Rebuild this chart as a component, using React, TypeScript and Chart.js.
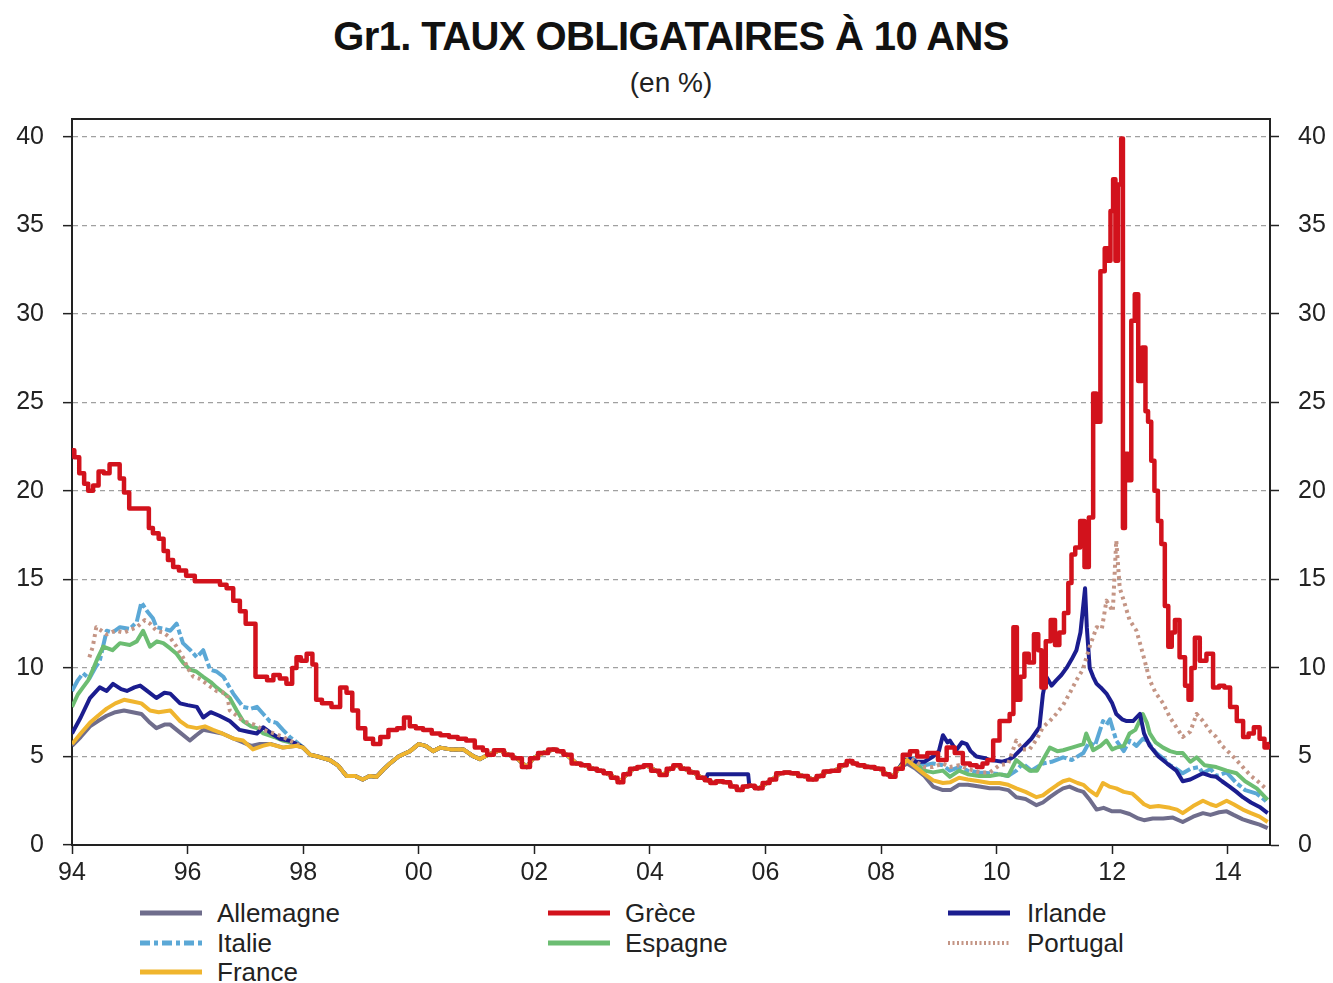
import React, { useEffect, useRef } from "react";
import { Chart, registerables } from "chart.js";

Chart.register(...registerables);

type P = [number, number];

const xTickYears = [1994, 1996, 1998, 2000, 2002, 2004, 2006, 2008, 2010, 2012, 2014];
const yTickValues = [0, 5, 10, 15, 20, 25, 30, 35, 40];

// Shared convergence period (all series nearly identical)
const conv1: P[] = [
  [1998.0, 5.5], [1998.12, 5.1], [1998.25, 5.0], [1998.46, 4.8], [1998.6, 4.5], [1998.75, 3.9],
  [1998.9, 3.9], [1999.03, 3.7], [1999.15, 3.9], [1999.27, 3.85], [1999.4, 4.3], [1999.5, 4.6],
  [1999.65, 5.0], [1999.85, 5.3], [2000.0, 5.7], [2000.12, 5.6], [2000.25, 5.3], [2000.37, 5.5],
  [2000.55, 5.4], [2000.77, 5.4], [2000.95, 5.0], [2001.06, 4.85],
];
const conv2: P[] = [
  [2001.2, 5.1], [2001.4, 5.35], [2001.55, 5.1], [2001.7, 4.9], [2001.87, 4.4], [2001.98, 4.9],
  [2002.15, 5.2], [2002.33, 5.4], [2002.45, 5.3], [2002.56, 5.1], [2002.73, 4.6], [2002.88, 4.5],
  [2003.02, 4.3], [2003.15, 4.2], [2003.25, 4.05], [2003.4, 3.8], [2003.48, 3.55], [2003.6, 4.0],
  [2003.71, 4.3], [2003.85, 4.4], [2003.94, 4.5], [2004.1, 4.2], [2004.23, 3.95], [2004.35, 4.3],
  [2004.46, 4.5], [2004.6, 4.3], [2004.75, 4.1], [2004.9, 3.8],
];
const conv3: P[] = [
  [2005.0, 3.65], [2005.09, 3.5], [2005.2, 3.6], [2005.33, 3.55], [2005.45, 3.3], [2005.56, 3.1],
  [2005.65, 3.3],
];
const conv4: P[] = [
  [2005.75, 3.35], [2005.88, 3.2], [2006.02, 3.5], [2006.12, 3.7], [2006.25, 4.05], [2006.38, 4.1],
  [2006.48, 4.05], [2006.65, 3.9], [2006.82, 3.7], [2006.95, 3.9], [2007.06, 4.15], [2007.2, 4.2],
  [2007.35, 4.5], [2007.46, 4.75], [2007.55, 4.6], [2007.63, 4.5], [2007.8, 4.4], [2007.98, 4.3],
  [2008.1, 4.0], [2008.2, 3.85], [2008.3, 4.3],
];

const allemagneEarly: P[] = [
  [1994.0, 5.6], [1994.15, 6.1], [1994.31, 6.7], [1994.45, 7.0], [1994.6, 7.3], [1994.75, 7.5],
  [1994.9, 7.6], [1995.05, 7.5], [1995.2, 7.4], [1995.35, 6.9], [1995.46, 6.6], [1995.6, 6.8],
  [1995.7, 6.8], [1995.85, 6.4], [1996.04, 5.9], [1996.15, 6.2], [1996.27, 6.5], [1996.45, 6.4],
  [1996.6, 6.3], [1996.8, 6.0], [1996.96, 5.8], [1997.1, 5.6], [1997.25, 5.7], [1997.45, 5.7],
  [1997.65, 5.5], [1997.89, 5.6],
];
const allemagneLate: P[] = [
  [2008.45, 4.6], [2008.6, 4.3], [2008.75, 3.9], [2008.9, 3.3], [2009.07, 3.1], [2009.2, 3.1],
  [2009.35, 3.4], [2009.5, 3.4], [2009.7, 3.3], [2009.88, 3.2], [2010.05, 3.2], [2010.2, 3.1],
  [2010.34, 2.7], [2010.5, 2.6], [2010.69, 2.25], [2010.8, 2.4], [2010.92, 2.7], [2011.05, 3.0],
  [2011.15, 3.2], [2011.26, 3.3], [2011.4, 3.1], [2011.5, 3.0], [2011.6, 2.6], [2011.73, 2.0],
  [2011.85, 2.1], [2012.0, 1.9], [2012.15, 1.9], [2012.3, 1.75], [2012.45, 1.5], [2012.55, 1.4],
  [2012.7, 1.5], [2012.88, 1.5], [2013.05, 1.55], [2013.22, 1.3], [2013.4, 1.6], [2013.57, 1.8],
  [2013.7, 1.7], [2013.85, 1.85], [2013.98, 1.9], [2014.1, 1.7], [2014.26, 1.45], [2014.4, 1.3],
  [2014.55, 1.15], [2014.69, 0.95],
];

const franceEarly: P[] = [
  [1994.0, 5.7], [1994.15, 6.3], [1994.31, 6.9], [1994.45, 7.3], [1994.6, 7.7], [1994.75, 8.0],
  [1994.9, 8.2], [1995.05, 8.1], [1995.2, 8.0], [1995.35, 7.6], [1995.5, 7.5], [1995.7, 7.6],
  [1995.87, 7.0], [1996.0, 6.7], [1996.16, 6.6], [1996.3, 6.7], [1996.44, 6.5], [1996.6, 6.3],
  [1996.8, 6.0], [1996.96, 5.9], [1997.13, 5.4], [1997.3, 5.6], [1997.43, 5.7], [1997.65, 5.5],
  [1997.89, 5.6],
];
const franceLate: P[] = [
  [2008.45, 4.8], [2008.6, 4.4], [2008.75, 4.0], [2008.9, 3.65], [2009.07, 3.5], [2009.2, 3.55],
  [2009.35, 3.8], [2009.5, 3.7], [2009.7, 3.6], [2009.88, 3.5], [2010.05, 3.5], [2010.2, 3.4],
  [2010.34, 3.2], [2010.5, 3.0], [2010.69, 2.7], [2010.8, 2.8], [2010.92, 3.1], [2011.05, 3.4],
  [2011.15, 3.6], [2011.26, 3.7], [2011.4, 3.5], [2011.5, 3.4], [2011.6, 3.1], [2011.73, 2.8],
  [2011.84, 3.5], [2011.95, 3.3], [2012.07, 3.2], [2012.2, 3.0], [2012.35, 2.9], [2012.42, 2.7],
  [2012.55, 2.3], [2012.65, 2.15], [2012.8, 2.2], [2013.0, 2.1], [2013.12, 2.0], [2013.22, 1.8],
  [2013.4, 2.2], [2013.57, 2.5], [2013.7, 2.3], [2013.8, 2.2], [2013.98, 2.5], [2014.1, 2.3],
  [2014.26, 2.0], [2014.4, 1.8], [2014.55, 1.6], [2014.69, 1.3],
];

const irlandeEarly: P[] = [
  [1994.0, 6.3], [1994.15, 7.2], [1994.31, 8.3], [1994.48, 8.9], [1994.6, 8.7], [1994.71, 9.1],
  [1994.85, 8.8], [1994.95, 8.7], [1995.08, 8.9], [1995.18, 9.0], [1995.3, 8.7], [1995.46, 8.3],
  [1995.6, 8.6], [1995.7, 8.55], [1995.87, 8.0], [1996.0, 7.9], [1996.16, 7.8], [1996.27, 7.2],
  [1996.4, 7.5], [1996.55, 7.3], [1996.73, 7.0], [1996.9, 6.5], [1997.05, 6.4], [1997.2, 6.3],
  [1997.31, 6.65], [1997.45, 6.3], [1997.6, 6.0], [1997.75, 5.9], [1997.89, 5.7],
];
const irlande2005: P[] = [[2004.98, 3.8], [2005.0, 4.0], [2005.7, 4.0], [2005.72, 3.35]];
const irlandeLate: P[] = [
  [2008.45, 5.0], [2008.6, 4.7], [2008.75, 4.7], [2008.9, 5.0], [2009.0, 5.3], [2009.07, 6.2],
  [2009.15, 5.8], [2009.19, 5.9], [2009.3, 5.35], [2009.4, 5.8], [2009.48, 5.7], [2009.55, 5.3],
  [2009.65, 5.0], [2009.8, 4.9], [2009.88, 4.8], [2010.0, 4.75], [2010.1, 4.7], [2010.2, 4.8],
  [2010.3, 5.0], [2010.45, 5.5], [2010.6, 6.0], [2010.74, 6.65], [2010.8, 8.5], [2010.86, 9.5],
  [2010.95, 9.0], [2011.03, 9.3], [2011.12, 9.6], [2011.21, 10.0], [2011.3, 10.5], [2011.38, 11.0],
  [2011.45, 12.0], [2011.53, 14.5], [2011.56, 12.3], [2011.61, 10.0], [2011.67, 9.5], [2011.73, 9.1],
  [2011.8, 8.9], [2011.9, 8.55], [2012.0, 8.0], [2012.07, 7.4], [2012.17, 7.1], [2012.25, 7.0],
  [2012.36, 7.0], [2012.48, 7.4], [2012.55, 6.3], [2012.65, 5.6], [2012.8, 5.0], [2012.95, 4.6],
  [2013.11, 4.2], [2013.22, 3.6], [2013.35, 3.7], [2013.57, 4.05], [2013.7, 3.9], [2013.8, 3.85],
  [2013.9, 3.6], [2014.03, 3.3], [2014.15, 3.0], [2014.26, 2.7], [2014.4, 2.4], [2014.55, 2.15],
  [2014.69, 1.8],
];

const italieEarly: P[] = [
  [1994.0, 8.7], [1994.1, 9.3], [1994.19, 9.7], [1994.3, 9.4], [1994.4, 10.0], [1994.48, 10.4],
  [1994.6, 12.1], [1994.7, 12.0], [1994.83, 12.3], [1995.0, 12.2], [1995.12, 12.6], [1995.2, 13.7],
  [1995.3, 13.2], [1995.4, 12.8], [1995.46, 12.3], [1995.6, 12.2], [1995.7, 12.1], [1995.81, 12.5],
  [1995.92, 11.4], [1996.05, 11.0], [1996.16, 10.6], [1996.27, 11.0], [1996.39, 9.9], [1996.5, 9.8],
  [1996.62, 9.5], [1996.79, 8.55], [1996.96, 7.8], [1997.1, 7.7], [1997.2, 7.8], [1997.31, 7.4],
  [1997.42, 7.0], [1997.54, 6.9], [1997.65, 6.5], [1997.77, 6.1], [1997.89, 5.8],
];
const italieLate: P[] = [
  [2008.45, 5.0], [2008.6, 4.8], [2008.75, 4.5], [2008.9, 4.6], [2009.07, 4.5], [2009.19, 4.2],
  [2009.35, 4.4], [2009.5, 4.2], [2009.7, 4.1], [2009.88, 4.05], [2010.05, 4.0], [2010.2, 3.9],
  [2010.34, 4.2], [2010.45, 4.6], [2010.6, 4.2], [2010.8, 4.6], [2010.95, 4.7], [2011.15, 4.95],
  [2011.3, 4.8], [2011.5, 5.2], [2011.6, 5.8], [2011.7, 5.6], [2011.84, 7.0], [2011.9, 6.8],
  [2011.96, 7.1], [2012.07, 5.9], [2012.2, 5.3], [2012.3, 5.9], [2012.42, 5.6], [2012.53, 6.0],
  [2012.6, 5.9], [2012.76, 5.2], [2012.88, 4.9], [2013.0, 4.5], [2013.11, 4.3], [2013.22, 4.05],
  [2013.35, 4.3], [2013.5, 4.4], [2013.57, 4.05], [2013.7, 4.3], [2013.8, 3.9], [2013.98, 4.1],
  [2014.15, 3.5], [2014.3, 3.1], [2014.5, 2.9], [2014.69, 2.4],
];

const espagneEarly: P[] = [
  [1994.0, 7.8], [1994.1, 8.5], [1994.19, 8.9], [1994.28, 9.3], [1994.36, 9.9], [1994.45, 10.6],
  [1994.54, 11.2], [1994.7, 11.0], [1994.83, 11.4], [1995.0, 11.3], [1995.12, 11.5], [1995.23, 12.1],
  [1995.35, 11.2], [1995.47, 11.5], [1995.58, 11.4], [1995.7, 11.1], [1995.81, 10.8], [1995.92, 10.3],
  [1996.04, 9.9], [1996.15, 9.8], [1996.27, 9.5], [1996.4, 9.2], [1996.5, 8.9], [1996.62, 8.6],
  [1996.73, 8.3], [1996.85, 7.6], [1996.96, 7.0], [1997.1, 6.7], [1997.2, 6.6], [1997.31, 6.3],
  [1997.5, 6.1], [1997.65, 5.9], [1997.89, 5.7],
];
const espagneLate: P[] = [
  [2008.45, 5.0], [2008.6, 4.6], [2008.75, 4.2], [2008.9, 4.1], [2009.07, 4.2], [2009.19, 3.85],
  [2009.35, 4.2], [2009.5, 4.0], [2009.7, 3.9], [2009.88, 3.9], [2010.05, 4.0], [2010.2, 3.9],
  [2010.34, 4.8], [2010.45, 4.5], [2010.57, 4.2], [2010.7, 4.2], [2010.8, 4.8], [2010.92, 5.5],
  [2011.05, 5.3], [2011.15, 5.35], [2011.3, 5.5], [2011.5, 5.7], [2011.55, 6.3], [2011.67, 5.35],
  [2011.8, 5.6], [2011.9, 5.9], [2012.0, 5.4], [2012.07, 5.5], [2012.2, 5.6], [2012.3, 6.3],
  [2012.4, 6.5], [2012.53, 7.4], [2012.6, 6.9], [2012.65, 6.3], [2012.75, 5.8], [2012.88, 5.5],
  [2013.0, 5.3], [2013.11, 5.2], [2013.22, 5.2], [2013.35, 4.7], [2013.46, 4.95], [2013.6, 4.5],
  [2013.8, 4.4], [2013.98, 4.2], [2014.15, 4.05], [2014.3, 3.6], [2014.5, 3.2], [2014.69, 2.55],
];

const portugalEarly: P[] = [
  [1994.3, 10.6], [1994.36, 11.2], [1994.42, 12.3], [1994.6, 11.9], [1994.75, 12.1], [1994.9, 12.0],
  [1995.12, 12.3], [1995.26, 12.7], [1995.35, 12.5], [1995.46, 12.1], [1995.58, 12.0], [1995.7, 11.7],
  [1995.81, 11.2], [1995.92, 10.6], [1996.0, 10.0], [1996.1, 9.5], [1996.2, 9.4], [1996.33, 9.1],
  [1996.5, 8.7], [1996.68, 8.55], [1996.73, 7.6], [1996.85, 7.3], [1996.96, 7.0], [1997.15, 6.8],
  [1997.31, 6.5], [1997.5, 6.3], [1997.65, 6.1], [1997.89, 5.7],
];
const portugalLate: P[] = [
  [2008.45, 5.0], [2008.6, 4.7], [2008.75, 4.4], [2008.9, 4.4], [2009.07, 4.6], [2009.19, 4.4],
  [2009.35, 4.5], [2009.5, 4.3], [2009.7, 4.1], [2009.88, 4.1], [2010.05, 4.5], [2010.2, 4.6],
  [2010.34, 5.9], [2010.45, 5.4], [2010.57, 5.4], [2010.7, 6.0], [2010.8, 6.65], [2010.92, 7.0],
  [2011.03, 7.4], [2011.15, 7.9], [2011.26, 8.55], [2011.38, 9.3], [2011.49, 9.9], [2011.61, 11.2],
  [2011.73, 12.3], [2011.82, 12.2], [2011.9, 13.8], [2012.01, 13.2], [2012.07, 17.2], [2012.13, 14.5],
  [2012.2, 13.8], [2012.3, 12.7], [2012.42, 12.1], [2012.53, 10.8], [2012.65, 9.3], [2012.75, 8.6],
  [2012.88, 8.0], [2013.0, 7.2], [2013.11, 6.65], [2013.22, 6.1], [2013.35, 6.4], [2013.46, 7.4],
  [2013.57, 7.0], [2013.7, 6.4], [2013.8, 6.1], [2013.9, 5.6], [2014.03, 5.2], [2014.15, 4.8],
  [2014.26, 4.4], [2014.4, 3.9], [2014.5, 3.65], [2014.69, 3.1],
];

const greceEarly: P[] = [
  [1994.0, 22.3], [1994.08, 21.9], [1994.17, 21.0], [1994.25, 20.4], [1994.31, 20.0], [1994.42, 20.3],
  [1994.5, 21.1], [1994.6, 21.0], [1994.7, 21.5], [1994.8, 21.5], [1994.85, 20.7], [1994.95, 19.9],
  [1995.03, 19.0], [1995.15, 19.0], [1995.31, 19.0], [1995.35, 17.9], [1995.45, 17.6], [1995.55, 17.3],
  [1995.62, 16.6], [1995.7, 16.1], [1995.8, 15.7], [1995.9, 15.5], [1996.05, 15.2], [1996.2, 14.9],
  [1996.35, 14.9], [1996.5, 14.9], [1996.62, 14.7], [1996.73, 14.5], [1996.85, 13.8], [1996.96, 13.2],
  [1997.05, 12.5], [1997.15, 12.5], [1997.2, 9.5], [1997.32, 9.5], [1997.43, 9.3], [1997.54, 9.6],
  [1997.65, 9.4], [1997.77, 9.1], [1997.85, 10.0], [1997.92, 10.6], [1998.0, 10.4], [1998.12, 10.8],
  [1998.2, 10.2], [1998.25, 8.2], [1998.4, 8.0], [1998.58, 7.8], [1998.7, 8.9], [1998.8, 8.6],
  [1998.9, 7.6], [1999.0, 6.6], [1999.15, 6.0], [1999.27, 5.7], [1999.4, 6.1], [1999.55, 6.5],
  [1999.7, 6.6], [1999.79, 7.2], [1999.9, 6.7], [2000.0, 6.6], [2000.15, 6.5], [2000.3, 6.3],
  [2000.45, 6.2], [2000.6, 6.1], [2000.75, 6.0], [2000.89, 5.9], [2001.05, 5.5], [2001.17, 5.35],
];
const greceLate: P[] = [
  [2008.45, 5.1], [2008.55, 5.3], [2008.7, 5.0], [2008.9, 5.2], [2009.07, 4.8], [2009.2, 5.5],
  [2009.35, 5.2], [2009.48, 4.6], [2009.6, 4.5], [2009.71, 4.4], [2009.8, 4.6], [2009.88, 4.8],
  [2010.0, 5.9], [2010.1, 7.0], [2010.2, 7.0], [2010.25, 7.4], [2010.33, 12.3], [2010.37, 8.2],
  [2010.45, 9.5], [2010.51, 10.8], [2010.6, 10.3], [2010.69, 11.9], [2010.75, 11.0], [2010.8, 8.9],
  [2010.9, 11.5], [2010.97, 12.7], [2011.05, 11.3], [2011.12, 12.0], [2011.21, 13.1], [2011.27, 14.8],
  [2011.32, 16.4], [2011.4, 16.8], [2011.49, 18.3], [2011.55, 15.7], [2011.64, 18.5], [2011.7, 25.5],
  [2011.75, 23.9], [2011.84, 32.4], [2011.9, 33.7], [2011.95, 33.0], [2011.99, 35.8], [2012.04, 37.6],
  [2012.07, 33.0], [2012.13, 37.3], [2012.18, 39.9], [2012.19, 17.9], [2012.25, 22.1], [2012.3, 20.6],
  [2012.36, 29.6], [2012.42, 31.1], [2012.48, 26.2], [2012.56, 28.1], [2012.59, 24.5], [2012.65, 23.9],
  [2012.7, 21.7], [2012.76, 20.0], [2012.82, 18.3], [2012.88, 17.0], [2012.94, 13.5], [2013.0, 11.2],
  [2013.06, 12.0], [2013.11, 12.7], [2013.22, 10.6], [2013.3, 9.0], [2013.34, 8.2], [2013.4, 10.0],
  [2013.46, 11.7], [2013.57, 10.4], [2013.69, 10.8], [2013.8, 8.9], [2013.9, 9.0], [2013.98, 8.9],
  [2014.1, 7.8], [2014.21, 7.0], [2014.32, 6.1], [2014.4, 6.3], [2014.5, 6.65], [2014.6, 6.0],
  [2014.67, 5.5], [2014.72, 5.7],
];

const FONT = "'Liberation Sans', Arial, Helvetica, sans-serif";

const COLORS = {
  allemagne: "#6f6d8c",
  grece: "#d2121c",
  irlande: "#1b1d8f",
  italie: "#5ba8d6",
  espagne: "#6cbd72",
  portugal: "#c49585",
  france: "#f0b52e",
};

const toXY = (pts: P[]) => pts.map(([x, y]) => ({ x, y }));

const legendItems = [
  { label: "Allemagne", color: COLORS.allemagne, dash: "", col: 0, row: 0, w: 5 },
  { label: "Italie", color: COLORS.italie, dash: "10,4,4,4", col: 0, row: 1, w: 5 },
  { label: "France", color: COLORS.france, dash: "", col: 0, row: 2, w: 5 },
  { label: "Grèce", color: COLORS.grece, dash: "", col: 1, row: 0, w: 5 },
  { label: "Espagne", color: COLORS.espagne, dash: "", col: 1, row: 1, w: 5 },
  { label: "Irlande", color: COLORS.irlande, dash: "", col: 2, row: 0, w: 5 },
  { label: "Portugal", color: COLORS.portugal, dash: "2,2.5", col: 2, row: 1, w: 4 },
];

export default function App() {
  const ref = useRef<HTMLCanvasElement | null>(null);

  useEffect(() => {
    document.body.style.margin = "0";
    const canvas = ref.current;
    if (!canvas) return;

    const frame = {
      id: "frameTop",
      afterDraw(chart: any) {
        const { ctx, chartArea } = chart;
        ctx.save();
        ctx.strokeStyle = "#222";
        ctx.lineWidth = 2;
        ctx.beginPath();
        ctx.moveTo(chartArea.left, chartArea.top);
        ctx.lineTo(chartArea.right, chartArea.top);
        ctx.stroke();
        ctx.restore();
      },
    };

    const base = { pointRadius: 0, borderWidth: 4, fill: false, tension: 0, borderJoinStyle: "round" as const };

    const chart = new Chart(canvas, {
      type: "line",
      data: {
        datasets: [
          {
            ...base,
            label: "Grèce",
            data: toXY([...greceEarly, ...conv2, ...conv3, ...conv4, ...greceLate]),
            borderColor: COLORS.grece,
            borderWidth: 4.5,
            stepped: "middle",
          },
          {
            ...base,
            label: "France",
            data: toXY([...franceEarly, ...conv1, ...conv2, ...conv3, ...conv4, ...franceLate]),
            borderColor: COLORS.france,
          },
          {
            ...base,
            label: "Allemagne",
            data: toXY([...allemagneEarly, ...conv1, ...conv2, ...conv3, ...conv4, ...allemagneLate]),
            borderColor: COLORS.allemagne,
          },
          {
            ...base,
            label: "Portugal",
            data: toXY([...portugalEarly, ...conv1, ...conv2, ...conv3, ...conv4, ...portugalLate]),
            borderColor: COLORS.portugal,
            borderDash: [3, 4],
            borderCapStyle: "butt",
          },
          {
            ...base,
            label: "Irlande",
            data: toXY([...irlandeEarly, ...conv1, ...conv2, ...irlande2005, ...conv4, ...irlandeLate]),
            borderColor: COLORS.irlande,
          },
          {
            ...base,
            label: "Espagne",
            data: toXY([...espagneEarly, ...conv1, ...conv2, ...conv3, ...conv4, ...espagneLate]),
            borderColor: COLORS.espagne,
          },
          {
            ...base,
            label: "Italie",
            data: toXY([...italieEarly, ...conv1, ...conv2, ...conv3, ...conv4, ...italieLate]),
            borderColor: COLORS.italie,
            borderDash: [18, 3, 5, 3],
          },
        ],
      },
      options: {
        animation: false,
        responsive: false,
        maintainAspectRatio: false,
        layout: { padding: { top: 18, left: 0, right: 0, bottom: 0 } },
        plugins: { legend: { display: false }, tooltip: { enabled: false }, title: { display: false } },
        scales: {
          x: {
            type: "linear",
            min: 1994,
            max: 2014.73,
            afterBuildTicks: (s: any) => {
              s.ticks = xTickYears.map((v) => ({ value: v }));
            },
            afterFit: (s: any) => {
              s.height = 45;
            },
            border: { display: true, color: "#222", width: 2 },
            grid: { display: true, drawOnChartArea: false, drawTicks: true, tickLength: 9, tickColor: "#222", tickWidth: 1.5 },
            ticks: {
              autoSkip: false,
              maxRotation: 0,
              padding: 4,
              color: "#222",
              font: { family: FONT, size: 25 },
              callback: (v: any) => String(Number(v) % 100).padStart(2, "0"),
            },
          },
          y: {
            position: "left",
            min: 0,
            max: 41,
            afterBuildTicks: (s: any) => {
              s.ticks = yTickValues.map((v) => ({ value: v }));
            },
            afterFit: (s: any) => {
              s.width = 72;
            },
            border: { display: true, color: "#222", width: 2, dash: [5, 4] },
            grid: {
              display: true,
              color: (c: any) => (c.tick && c.tick.value === 0 ? "rgba(0,0,0,0)" : "#a0a0a0"),
              lineWidth: 1.3,
              drawTicks: true,
              tickLength: 9,
              tickColor: "#222",
              tickWidth: 1.5,
              tickBorderDash: [],
            },
            ticks: { padding: 19, color: "#222", font: { family: FONT, size: 25 } },
          },
          y2: {
            position: "right",
            min: 0,
            max: 41,
            afterBuildTicks: (s: any) => {
              s.ticks = yTickValues.map((v) => ({ value: v }));
            },
            afterFit: (s: any) => {
              s.width = 63;
            },
            border: { display: true, color: "#222", width: 2 },
            grid: {
              display: true,
              drawOnChartArea: false,
              drawTicks: true,
              tickLength: 9,
              tickColor: "#222",
              tickWidth: 1.5,
            },
            ticks: { padding: 19, color: "#222", font: { family: FONT, size: 25 } },
          },
        },
      } as any,
      plugins: [frame],
    });

    return () => chart.destroy();
  }, []);

  const colX = [140, 548, 948];
  const textX = [217, 625, 1027];
  const rowY = [913, 943, 972];

  return (
    <div style={{ position: "relative", width: 1333, height: 983, background: "#fff", fontFamily: FONT, overflow: "hidden" }}>
      <div
        style={{
          position: "absolute",
          left: 0,
          width: 1342,
          top: 12,
          textAlign: "center",
          fontWeight: "bold",
          fontSize: 40,
          letterSpacing: "-0.6px",
          lineHeight: "48px",
          color: "#111",
        }}
      >
        Gr1. TAUX OBLIGATAIRES À 10 ANS
      </div>
      <div
        style={{
          position: "absolute",
          left: 0,
          width: 1342,
          top: 66,
          textAlign: "center",
          fontSize: 28,
          lineHeight: "34px",
          color: "#222",
        }}
      >
        (en %)
      </div>
      <canvas ref={ref} width={1333} height={805} style={{ position: "absolute", left: 0, top: 85, width: 1333, height: 805 }} />
      {legendItems.map((it) => (
        <React.Fragment key={it.label}>
          <svg
            style={{ position: "absolute", left: colX[it.col], top: rowY[it.row] - 5 }}
            width={62}
            height={10}
          >
            <line
              x1={0}
              y1={5}
              x2={62}
              y2={5}
              stroke={it.color}
              strokeWidth={it.w}
              strokeDasharray={it.dash || undefined}
            />
          </svg>
          <div
            style={{
              position: "absolute",
              left: textX[it.col],
              top: rowY[it.row] - 16,
              fontSize: 26,
              lineHeight: "32px",
              color: "#222",
              whiteSpace: "nowrap",
            }}
          >
            {it.label}
          </div>
        </React.Fragment>
      ))}
    </div>
  );
}
